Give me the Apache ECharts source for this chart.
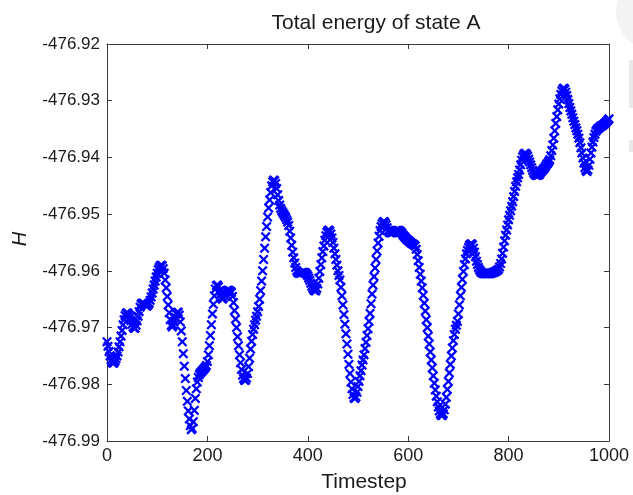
<!DOCTYPE html>
<html><head><meta charset="utf-8">
<script src="https://cdn.jsdelivr.net/npm/echarts@6/dist/echarts.min.js"></script>
<style>html,body{margin:0;padding:0;background:#fff}#chart{width:633px;height:495px}</style>
</head><body><div id="chart"></div>
<script>
const chartTitle = 'Total energy of state A';
const xAxisName = 'Timestep';
const yAxisName = 'H';
const xTicks = [0, 200, 400, 600, 800, 1000];
const yTicks = [-476.99, -476.98, -476.97, -476.96, -476.95, -476.94, -476.93, -476.92];
const timestepStart = 0;
const timestepStride = 2;
const energy = [
-476.9725,-476.9733,-476.9742,-476.9750,-476.9757,-476.9761,-476.9763,-476.9762,-476.9759,-476.9755,
-476.9750,-476.9743,-476.9734,-476.9725,-476.9715,-476.9705,-476.9695,-476.9686,-476.9679,-476.9675,
-476.9674,-476.9675,-476.9678,-476.9682,-476.9688,-476.9694,-476.9699,-476.9701,-476.9701,-476.9696,
-476.9688,-476.9680,-476.9672,-476.9664,-476.9659,-476.9657,-476.9657,-476.9658,-476.9660,-476.9662,
-476.9662,-476.9660,-476.9657,-476.9652,-476.9646,-476.9639,-476.9632,-476.9625,-476.9618,-476.9611,
-476.9604,-476.9598,-476.9594,-476.9591,-476.9590,-476.9591,-476.9596,-476.9604,-476.9616,-476.9630,
-476.9645,-476.9660,-476.9674,-476.9686,-476.9696,-476.9699,-476.9696,-476.9689,-476.9682,-476.9676,
-476.9673,-476.9673,-476.9678,-476.9690,-476.9706,-476.9725,-476.9746,-476.9768,-476.9790,-476.9811,
-476.9830,-476.9847,-476.9861,-476.9873,-476.9880,-476.9878,-476.9866,-476.9846,-476.9825,-476.9808,
-476.9796,-476.9788,-476.9783,-476.9780,-476.9778,-476.9776,-476.9774,-476.9772,-476.9770,-476.9767,
-476.9760,-476.9748,-476.9732,-476.9714,-476.9695,-476.9676,-476.9659,-476.9644,-476.9632,-476.9626,
-476.9625,-476.9628,-476.9635,-476.9642,-476.9648,-476.9650,-476.9648,-476.9644,-476.9640,-476.9636,
-476.9634,-476.9634,-476.9635,-476.9636,-476.9638,-476.9645,-476.9656,-476.9670,-476.9685,-476.9700,
-476.9716,-476.9732,-476.9748,-476.9762,-476.9774,-476.9784,-476.9790,-476.9793,-476.9793,-476.9789,
-476.9781,-476.9769,-476.9754,-476.9738,-476.9724,-476.9712,-476.9703,-476.9695,-476.9687,-476.9680,
-476.9672,-476.9663,-476.9650,-476.9635,-476.9618,-476.9600,-476.9580,-476.9560,-476.9540,-476.9522,
-476.9505,-476.9489,-476.9475,-476.9462,-476.9450,-476.9443,-476.9440,-476.9441,-476.9446,-476.9455,
-476.9466,-476.9476,-476.9484,-476.9490,-476.9494,-476.9497,-476.9500,-476.9503,-476.9506,-476.9510,
-476.9514,-476.9520,-476.9530,-476.9542,-476.9555,-476.9567,-476.9577,-476.9586,-476.9594,-476.9600,
-476.9603,-476.9604,-476.9604,-476.9604,-476.9603,-476.9603,-476.9603,-476.9603,-476.9604,-476.9606,
-476.9609,-476.9613,-476.9617,-476.9622,-476.9627,-476.9631,-476.9634,-476.9635,-476.9635,-476.9631,
-476.9623,-476.9613,-476.9601,-476.9589,-476.9577,-476.9566,-476.9556,-476.9546,-476.9538,-476.9532,
-476.9529,-476.9528,-476.9530,-476.9535,-476.9542,-476.9550,-476.9560,-476.9570,-476.9580,-476.9590,
-476.9600,-476.9608,-476.9616,-476.9629,-476.9644,-476.9660,-476.9677,-476.9694,-476.9711,-476.9729,
-476.9747,-476.9765,-476.9781,-476.9796,-476.9808,-476.9818,-476.9824,-476.9825,-476.9822,-476.9814,
-476.9804,-476.9795,-476.9785,-476.9776,-476.9766,-476.9757,-476.9748,-476.9737,-476.9726,-476.9714,
-476.9702,-476.9689,-476.9675,-476.9658,-476.9641,-476.9625,-476.9610,-476.9595,-476.9580,-476.9565,
-476.9551,-476.9539,-476.9529,-476.9522,-476.9517,-476.9514,-476.9513,-476.9515,-476.9519,-476.9524,
-476.9529,-476.9532,-476.9533,-476.9533,-476.9533,-476.9532,-476.9531,-476.9530,-476.9529,-476.9529,
-476.9529,-476.9529,-476.9530,-476.9532,-476.9534,-476.9537,-476.9539,-476.9541,-476.9543,-476.9545,
-476.9546,-476.9548,-476.9549,-476.9551,-476.9552,-476.9553,-476.9554,-476.9556,-476.9562,-476.9571,
-476.9582,-476.9594,-476.9606,-476.9618,-476.9630,-476.9643,-476.9657,-476.9671,-476.9686,-476.9700,
-476.9715,-476.9729,-476.9743,-476.9757,-476.9771,-476.9785,-476.9798,-476.9810,-476.9821,-476.9831,
-476.9840,-476.9847,-476.9852,-476.9855,-476.9855,-476.9852,-476.9845,-476.9835,-476.9823,-476.9809,
-476.9795,-476.9780,-476.9765,-476.9750,-476.9736,-476.9723,-476.9712,-476.9703,-476.9696,-476.9689,
-476.9676,-476.9660,-476.9644,-476.9629,-476.9615,-476.9601,-476.9589,-476.9579,-476.9570,-476.9564,
-476.9559,-476.9555,-476.9553,-476.9552,-476.9554,-476.9560,-476.9567,-476.9575,-476.9583,-476.9589,
-476.9594,-476.9598,-476.9601,-476.9603,-476.9604,-476.9604,-476.9605,-476.9605,-476.9605,-476.9605,
-476.9605,-476.9605,-476.9604,-476.9604,-476.9603,-476.9603,-476.9602,-476.9601,-476.9600,-476.9599,
-476.9597,-476.9593,-476.9587,-476.9579,-476.9569,-476.9558,-476.9547,-476.9537,-476.9528,-476.9519,
-476.9510,-476.9502,-476.9494,-476.9486,-476.9478,-476.9469,-476.9460,-476.9451,-476.9443,-476.9436,
-476.9430,-476.9422,-476.9413,-476.9405,-476.9399,-476.9395,-476.9393,-476.9393,-476.9395,-476.9398,
-476.9403,-476.9408,-476.9413,-476.9418,-476.9423,-476.9427,-476.9430,-476.9431,-476.9432,-476.9431,
-476.9431,-476.9429,-476.9426,-476.9424,-476.9422,-476.9420,-476.9418,-476.9415,-476.9412,-476.9410,
-476.9407,-476.9404,-476.9397,-476.9388,-476.9378,-476.9366,-476.9353,-476.9340,-476.9328,-476.9316,
-476.9306,-476.9297,-476.9289,-476.9283,-476.9279,-476.9278,-476.9280,-476.9285,-476.9291,-476.9298,
-476.9305,-476.9312,-476.9318,-476.9324,-476.9330,-476.9336,-476.9342,-476.9348,-476.9353,-476.9359,
-476.9366,-476.9374,-476.9383,-476.9392,-476.9401,-476.9410,-476.9418,-476.9423,-476.9425,-476.9422,
-476.9414,-476.9403,-476.9392,-476.9382,-476.9373,-476.9365,-476.9359,-476.9354,-476.9351,-476.9349,
-476.9348,-476.9346,-476.9345,-476.9344,-476.9343,-476.9341,-476.9340,-476.9338,-476.9336,-476.9334,
-476.9332
];

const FONT = '"Liberation Sans", Arial, Helvetica, sans-serif';
const TEXT = '#1a1a1a';
const AXIS = '#3a3a3a';

const points = energy.map((v, i) => [timestepStart + i * timestepStride, v]);
const xMin = xTicks[0], xMax = xTicks[xTicks.length - 1], xInt = xTicks[1] - xTicks[0];
const yMin = yTicks[0], yMax = yTicks[yTicks.length - 1], yInt = 0.01;

const xMark = 'path://M0,1.6L1.6,0L5,3.4L8.4,0L10,1.6L6.6,5L10,8.4L8.4,10L5,6.6L1.6,10L0,8.4L3.4,5Z';

function axisCommon(showLabel, isY) {
  return {
    type: 'value',
    axisLine: { show: true, onZero: false, lineStyle: { color: AXIS, width: 1 } },
    axisTick: { show: true, inside: true, length: 5, lineStyle: { color: AXIS, width: 1 } },
    axisLabel: showLabel ? {
      show: true, fontFamily: FONT, fontSize: isY ? 17 : 18, color: TEXT, margin: isY ? 7 : 6,
      formatter: isY ? (v => v.toFixed(2)) : (v => String(v))
    } : { show: false },
    splitLine: { show: false },
    minorTick: { show: false }
  };
}

const chart = echarts.init(document.getElementById('chart'), null, { renderer: 'canvas' });
chart.setOption({
  animation: false,
  backgroundColor: '#ffffff',
  grid: { left: 107, right: 24, top: 44, bottom: 54, containLabel: false },
  xAxis: [
    Object.assign(axisCommon(true, false), { position: 'bottom', min: xMin, max: xMax, interval: xInt }),
    Object.assign(axisCommon(false, false), { position: 'top', min: xMin, max: xMax, interval: xInt })
  ],
  yAxis: [
    Object.assign(axisCommon(true, true), { position: 'left', min: yMin, max: yMax, interval: yInt }),
    Object.assign(axisCommon(false, true), { position: 'right', min: yMin, max: yMax, interval: yInt })
  ],
  series: [{
    type: 'scatter',
    xAxisIndex: 0, yAxisIndex: 0,
    data: points,
    symbol: xMark,
    symbolSize: 10,
    itemStyle: { color: '#0000ff', opacity: 1 },
    emphasis: { disabled: true },
    silent: true
  }],
  graphic: [
    { type: 'text', x: 376, y: 23, silent: true,
      style: { text: chartTitle, font: '21px ' + FONT, fill: TEXT, textAlign: 'center', textVerticalAlign: 'middle' } },
    { type: 'text', x: 364, y: 482, silent: true,
      style: { text: xAxisName, font: '21px ' + FONT, fill: TEXT, textAlign: 'center', textVerticalAlign: 'middle' } },
    { type: 'text', x: 20, y: 239, rotation: Math.PI / 2, silent: true,
      style: { text: yAxisName, font: 'italic 20px ' + FONT, fill: TEXT, textAlign: 'center', textVerticalAlign: 'middle' } },
    { type: 'circle', silent: true, shape: { cx: 654, cy: 12, r: 38 }, style: { fill: '#f3f3f3' } },
    { type: 'rect', silent: true, shape: { x: 629, y: 60, width: 4, height: 48 }, style: { fill: '#e9e9e9' } },
    { type: 'rect', silent: true, shape: { x: 629, y: 140, width: 4, height: 12 }, style: { fill: '#e9e9e9' } }
  ]
});
</script>
</body></html>
